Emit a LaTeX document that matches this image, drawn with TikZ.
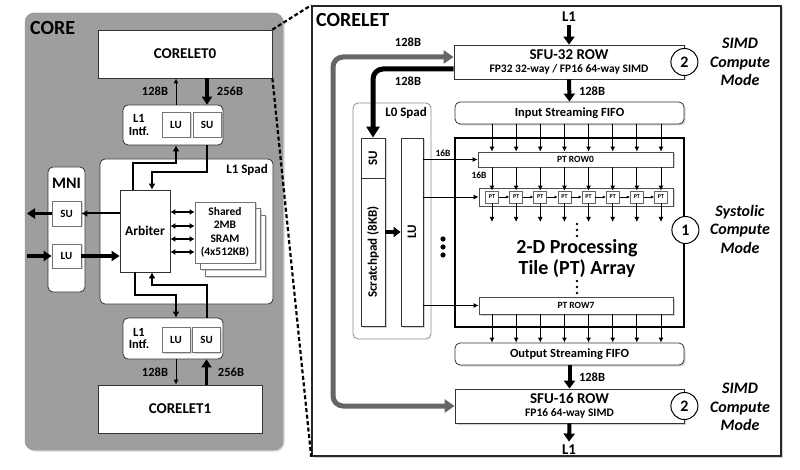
\documentclass[tikz,border=0pt]{standalone}
\usepackage{fontspec}
\setmainfont{Carlito}
\usetikzlibrary{arrows.meta,shadows}

\newcommand\bsz[1]{\bfseries\fontsize{#1}{#1}\selectfont}

\tikzset{
  box/.style={draw=black!80, fill=white, line width=0.8pt, inner sep=0pt, align=center},
  rbox/.style={box, rounded corners=5pt},
  shd/.style={drop shadow={shadow xshift=1.5pt, shadow yshift=-1.5pt, opacity=.35}},
  cell/.style={box, draw=black!55, shd, minimum width=28pt, minimum height=25pt, font=\bsz{11}},
  lnk/.style={line width=0.9pt, -{Latex[length=5pt,width=5pt]}},
  bus/.style={line width=2pt, -{Latex[length=6pt,width=7pt]}},
  fat/.style={line width=4pt, -{Triangle[length=8pt,width=11pt]}},
  lbl/.style={font=\bsz{12.5}, inner sep=1pt, align=center},
  small/.style={font=\bsz{9.5}, inner sep=0pt},
  mode/.style={font=\bfseries\itshape\fontsize{16}{18.5}\selectfont, align=center},
  num/.style={circle, draw=black, line width=1pt, fill=white, minimum size=27pt, inner sep=0pt, font=\bsz{16}},
}

\begin{document}
\begin{tikzpicture}[x=1pt,y=-1pt]
  \useasboundingbox (0,0) rectangle (800,470);

  % CORE
  \node[draw=black!45, fill=black!38, rounded corners=9pt, shd, minimum width=258pt, minimum height=437pt] (core) at (154,231.5) {};
  \node[font=\bsz{20}, anchor=base west, inner sep=0pt] at (30,35) {CORE};

  % CORELET frame
  \node[draw=black!85, fill=white, line width=1.6pt, shd, minimum width=469pt, minimum height=450pt] (cl) at (546.5,231) {};
  \node[font=\bsz{20}, anchor=base west, inner sep=0pt] at (316,27) {CORELET};

  \node[box, minimum width=174pt, minimum height=48pt, font=\bsz{15}] (c0) at (185,54) {CORELET0};
  \node[box, minimum width=164pt, minimum height=48pt, font=\bsz{15}] (c1) at (180,409) {CORELET1};

  % L1 interfaces
  \node[rbox, minimum width=100pt, minimum height=40pt] (li0) at (173,125) {};
  \node[lbl] at (139,125) {L1\\Intf.};
  \node[cell] (lu0) at (176,124.5) {LU};
  \node[cell] (su0) at (207,124.5) {SU};
  \node[rbox, minimum width=100pt, minimum height=41pt] (li1) at (173,338.5) {};
  \node[lbl] at (139,338.5) {L1\\Intf.};
  \node[cell] (lu1) at (176,339.5) {LU};
  \node[cell] (su1) at (206.5,339.5) {SU};

  % L1 Spad
  \node[rbox, minimum width=173pt, minimum height=145pt] (l1s) at (186.5,231.5) {};
  \node[font=\bsz{13}, anchor=base east, inner sep=0pt] at (268,174) {L1 Spad};
  \node[box, minimum width=50pt, minimum height=82pt, font=\bsz{13.5}] (arb) at (145,231) {Arbiter};
  \foreach \d in {10,5}
    \node[box, draw=black!55, shd, minimum width=60pt, minimum height=61pt] at (225+\d,232.5+1.3*\d) {};
  \node[box, draw=black!55, shd, minimum width=60pt, minimum height=61pt, font=\bfseries\fontsize{11.5}{13.5}\selectfont] (sram) at (225,232.5) {Shared\\2MB\\SRAM\\(4x512KB)};

  % MNI
  \node[rbox, minimum width=37pt, minimum height=125pt] (mni) at (66.5,229.5) {};
  \node[font=\bsz{16}, anchor=base, inner sep=0pt] at (66.5,189) {MNI};
  \node[cell, minimum width=29pt] (msu) at (66.5,213.5) {SU};
  \node[cell, minimum width=29pt, minimum height=24pt] (mlu) at (66.5,256) {LU};
  \coordinate (mnio) at (27,213.5);
  \coordinate (mnii) at (27,256);

  % core connections
  \draw[lnk] (lu0.north |- li0.north) -- (lu0.north |- c0.south);
  \draw[fat, line width=3.5pt, -{Triangle[length=8pt,width=10pt]}] (su0.north |- c0.south) -- (su0.north |- li0.north);
  \node[lbl] at (155,91) {128B};
  \node[lbl] at (230,91) {256B};
  \draw[bus] ([xshift=-12pt]arb.north) -- ++(0,-27) -| (lu0.south |- li0.south);
  \draw[bus] (su0.south |- li0.south) -- ++(0,27) -| ([xshift=7pt]arb.north);
  \draw[bus] ([xshift=-10pt]arb.south) -- ++(0,23) -| (lu1.north |- li1.north);
  \draw[bus] (su1.north |- li1.north) -- ++(0,-33) -| ([xshift=7pt]arb.south);
  \draw[lnk] (lu1.south |- li1.south) -- (lu1.south |- c1.north);
  \draw[fat, line width=3.5pt, -{Triangle[length=8pt,width=10pt]}] (su1.south |- c1.north) -- (su1.south |- li1.south);
  \node[lbl] at (155,372) {128B};
  \node[lbl] at (231,372) {256B};
  \foreach \y in {212,226,239,252}
    \draw[line width=2pt, {Latex[length=5pt,width=6pt]}-{Latex[length=5pt,width=6pt]}] (arb.east |- 0,\y) -- (sram.west |- 0,\y);
  \draw[bus] (arb.west |- msu.east) -- (msu.east);
  \draw[fat, line width=3.5pt, -{Triangle[length=8pt,width=10pt]}] (msu.west) -- (mnio);
  \draw[fat, line width=3.5pt, -{Triangle[length=8pt,width=10pt]}] (mnii) -- (mlu.west);
  \draw[fat, line width=3.5pt, -{Triangle[length=8pt,width=10pt]}] (mlu.east) -- (arb.west |- mlu.east);

  % zoom lines
  \draw[line width=2.2pt, dash pattern=on 4pt off 2.5pt] (c0.north east) -- (cl.north west);
  \draw[line width=2.2pt, dash pattern=on 4pt off 2.5pt] (c0.south east) -- (cl.south west);

  % CORELET contents
  \node[box, shd, minimum width=230pt, minimum height=34pt] (sfu32) at (569,62)
    {\bsz{15}SFU-32 ROW\\[0.5pt]\bsz{11.5}FP32 32-way / FP16 64-way SIMD};
  \node[rbox, shd, minimum width=229pt, minimum height=22pt, font=\bsz{12.5}] (infifo) at (569.5,113) {Input Streaming FIFO};
  \node[draw, fill=white, line width=2.8pt, minimum width=229pt, minimum height=189pt] (arr) at (569.5,232.5) {};
  \node[font=\bfseries\fontsize{20}{21}\selectfont, align=center] (arrtxt) at (577,259) {2-D Processing\\Tile (PT) Array};
  \node[rbox, shd, minimum width=229pt, minimum height=22pt, font=\bsz{12.5}] (outfifo) at (569.5,354) {Output Streaming FIFO};
  \node[box, shd, minimum width=229pt, minimum height=34pt] (sfu16) at (569.5,406)
    {\bsz{15}SFU-16 ROW\\[0.5pt]\bsz{11.5}FP16 64-way SIMD};

  \node[box, draw=black!70, shd, minimum width=195pt, minimum height=15pt, font=\bsz{9.5}] (row0) at (575.5,159.5) {PT ROW0};
  \node[box, draw=black!70, shd, minimum width=194pt, minimum height=18pt] (rowx) at (576,197) {};
  \node[box, draw=black!70, shd, minimum width=194pt, minimum height=17pt, font=\bsz{9.5}] (row7) at (576,305.5) {PT ROW7};

  \foreach \i in {0,...,7} {
    \coordinate (col\i) at (492+24.14*\i,0);
    \node[box, draw=black!60, minimum width=13pt, minimum height=12pt, font=\bsz{6}] (pt\i) at (col\i |- rowx) {PT};
    \draw[lnk] (col\i |- infifo.south) -- (col\i |- row0.north);
    \draw[lnk] (col\i |- row0.south) -- (pt\i.north);
    \draw[lnk] (pt\i.south) -- (col\i |- 0,222);
    \draw[lnk] (col\i |- row7.south) -- (col\i |- outfifo.north);
  }
  \foreach \i [count=\j from 1] in {0,...,6}
    \draw[line width=0.6pt, -{Latex[length=3pt,width=3pt]}] (pt\i.east) -- (pt\j.west);
  \foreach \y in {224,230,236,281,287,293}
    \fill (577,\y) circle (1.4pt);

  % L0 Spad
  \node[rbox, draw=black!45, minimum width=78pt, minimum height=236pt] (l0) at (392,221) {};
  \node[font=\bsz{13}, anchor=base east, inner sep=0pt] at (427,117) {L0 Spad};
  \node[box, shd, minimum width=24pt, minimum height=40pt] (sul) at (373,158) {};
  \node[rotate=90, font=\bsz{13}] at (sul) {SU};
  \node[box, shd, minimum width=24pt, minimum height=148pt] (scr) at (373,252) {};
  \node[rotate=90, font=\bsz{13}] at (scr) {Scratchpad (8KB)};
  \node[box, shd, minimum width=22pt, minimum height=188pt] (lul) at (412,232) {};
  \node[rotate=90, font=\bsz{13}] at (lul) {LU};
  \draw[fat, line width=3.5pt, -{Triangle[length=7pt,width=10pt]}] (scr.east |- lul.west) -- (lul.west);
  \draw[lnk] (lul.east |- row0.west) -- (row0.west);
  \draw[lnk] (lul.east |- rowx.west) -- (rowx.west);
  \draw[lnk] (lul.east |- row7.west) -- (row7.west);
  \foreach \y in {239,247,255}
    \fill (443,\y) circle (2.6pt);
  \node[small] at (443,153) {16B};
  \node[small] at (479,175) {16B};

  % SFU paths
  \coordinate (gl) at (333,231);
  \draw[black!60, line width=5pt, rounded corners=10pt, {Triangle[length=10pt,width=13pt]}-{Triangle[length=10pt,width=13pt]}]
    ([yshift=5pt]sfu32.west) -| (gl) |- (sfu16.west);
  \draw[line width=5pt, rounded corners=10pt, -{Triangle[length=11pt,width=13pt]}] ([yshift=-7pt]sfu32.west) -| (sul.north);
  \node[lbl] at (408,42) {128B};
  \node[lbl] at (408,81) {128B};

  \node[font=\bsz{15}] (l1in) at (569,17) {L1};
  \node[font=\bsz{15}] (l1out) at (569,450) {L1};
  \draw[fat] (l1in.south) -- (sfu32.north);
  \draw[fat] (sfu32.south) -- (infifo.north);
  \node[lbl] at (592,91) {128B};
  \draw[fat] (outfifo.south) -- (sfu16.north);
  \node[lbl] at (592,377) {128B};
  \draw[fat] (sfu16.south) -- (l1out.north);

  % modes
  \node[num] (m2a) at (sfu32.east) {2};
  \node[num] (m1) at (arr.east |- 0,230) {1};
  \node[num] (m2b) at (sfu16.east) {2};
  \node[mode] at (740,62) {SIMD\\Compute\\Mode};
  \node[mode] at (740,229) {Systolic\\Compute\\Mode};
  \node[mode] at (740,407) {SIMD\\Compute\\Mode};
\end{tikzpicture}
\end{document}
